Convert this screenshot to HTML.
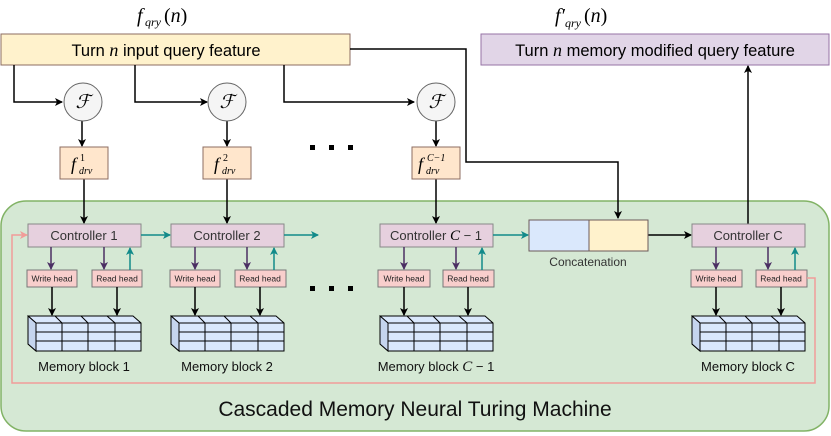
<!DOCTYPE html>
<html><head><meta charset="utf-8"><style>
body{margin:0;background:#fff}
svg{display:block;font-family:"Liberation Sans",sans-serif}
.m{font-family:"Liberation Serif",serif;font-style:italic}
</style></head><body>
<svg width="831" height="436" viewBox="0 0 831 436" xmlns="http://www.w3.org/2000/svg">
<defs>
<marker id="ab" markerWidth="8" markerHeight="8" refX="7" refY="4" orient="auto" markerUnits="userSpaceOnUse"><path d="M0,0 L8,4 L0,8 L2,4z" fill="#000"/></marker>
<marker id="ap" markerWidth="8" markerHeight="8" refX="7" refY="4" orient="auto" markerUnits="userSpaceOnUse"><path d="M0,0 L8,4 L0,8 L2,4z" fill="#4b2f63"/></marker>
<marker id="at" markerWidth="8" markerHeight="8" refX="7" refY="4" orient="auto" markerUnits="userSpaceOnUse"><path d="M0,0 L8,4 L0,8 L2,4z" fill="#128a8a"/></marker>
<marker id="ar" markerWidth="8" markerHeight="8" refX="7" refY="4" orient="auto" markerUnits="userSpaceOnUse"><path d="M0,0 L8,4 L0,8 L2,4z" fill="#f19c99"/></marker>
<g id="mem" stroke="#000" stroke-width="1" fill="#dae8fc">
<path d="M0,0 L105,0 L113,7 L113,35 L8,35 L0,28z"/>
<path d="M0,0 L8,7 L113,7 M8,7 L8,35 M0,9 L8,16 L113,16 M0,18 L8,25 L113,25 M27,0 L34,7 L34,35 M53,0 L60,7 L60,35 M79,0 L87,7 L87,35" fill="none"/>
<path d="M0,0 L8,7 L8,35 L0,28z" fill="#c5d5ee"/>
</g>
</defs>
<rect x="1" y="201" width="828" height="230" rx="25" fill="#d5e8d4" stroke="#82b366" stroke-width="1.5"/>
<rect x="1" y="34" width="349" height="31" fill="#fff2cc" stroke="#8c6d62"/>
<text x="166" y="56" font-size="16.5" text-anchor="middle">Turn <tspan class="m" font-size="18">n</tspan> input query feature</text>
<g class="m"><text x="137" y="22" font-size="20">f</text><text x="145" y="26" font-size="12">qry</text><text x="164" y="22" font-size="20"><tspan font-style="normal">(</tspan>n<tspan font-style="normal">)</tspan></text></g>
<rect x="481" y="34" width="348" height="31" fill="#e1d5e7" stroke="#9673a6"/>
<text x="655" y="56" font-size="16.5" text-anchor="middle">Turn <tspan class="m" font-size="18">n</tspan> memory modified query feature</text>
<g class="m"><text x="555" y="22" font-size="20">f′</text><text x="565" y="27" font-size="12">qry</text><text x="584" y="22" font-size="20"><tspan font-style="normal">(</tspan>n<tspan font-style="normal">)</tspan></text></g>
<g stroke="#000" stroke-width="1.5" fill="none" marker-end="url(#ab)">
<path d="M350,49 H466 V162 H618 V218"/>
<path d="M14,65 V102 H62"/>
<path d="M135,65 V102 H207"/>
<path d="M284,65 V102 H414"/>
<path d="M82,121 V146"/>
<path d="M227,121 V146"/>
<path d="M436,121 V146"/>
<path d="M84,179 V223"/>
<path d="M227,179 V223"/>
<path d="M436,179 V223"/>
<path d="M648,235 H691"/>
<path d="M748,224 V66"/>
</g>
<g fill="#f5f5f5" stroke="#666"><circle cx="83" cy="102" r="19"/><circle cx="227" cy="102" r="19"/><circle cx="436" cy="102" r="19"/></g>
<g font-size="19" text-anchor="middle" class="m"><text x="83" y="108">ℱ</text><text x="227" y="108">ℱ</text><text x="436" y="108">ℱ</text></g>
<g fill="#ffe6cc" stroke="#8c6d62"><rect x="60" y="147" width="48" height="32"/><rect x="203" y="147" width="48" height="32"/><rect x="412" y="147" width="48" height="32"/></g>
<g class="m">
<text x="71" y="170" font-size="18">f</text><text x="80" y="161" font-size="10" font-style="normal">1</text><text x="79" y="174" font-size="10">drv</text>
<text x="214" y="170" font-size="18">f</text><text x="223" y="161" font-size="10" font-style="normal">2</text><text x="222" y="174" font-size="10">drv</text>
<text x="418" y="170" font-size="18">f</text><text x="427" y="161" font-size="10">C−1</text><text x="426" y="174" font-size="10">drv</text>
</g>
<g fill="#000"><rect x="310" y="145" width="5" height="5"/><rect x="329" y="145" width="5" height="5"/><rect x="348" y="145" width="5" height="5"/>
<rect x="310" y="286" width="5" height="5"/><rect x="329" y="286" width="5" height="5"/><rect x="348" y="286" width="5" height="5"/></g>
<g fill="#e6d0de" stroke="#888"><rect x="28" y="224" width="113" height="23"/><rect x="171" y="224" width="113" height="23"/><rect x="380" y="224" width="113" height="23"/><rect x="692" y="224" width="113" height="23"/></g>
<g font-size="13" fill="#333" text-anchor="middle"><text x="84" y="240">Controller 1</text><text x="227" y="240">Controller 2</text><text x="436" y="240">Controller <tspan class="m" font-size="15" fill="#000">C</tspan> − 1</text><text x="748" y="240">Controller C</text>
<text x="588" y="266" font-size="12">Concatenation</text></g>
<rect x="529" y="220" width="60" height="31" fill="#dae8fc" stroke="#6c5a5a"/>
<rect x="589" y="220" width="59" height="31" fill="#fff2cc" stroke="#6c5a5a"/>
<g fill="#f8cecc" stroke="#777"><rect x="27" y="270" width="50" height="17"/><rect x="92" y="270" width="50" height="17"/><rect x="170" y="270" width="50" height="17"/><rect x="235" y="270" width="51" height="17"/><rect x="378" y="270" width="52" height="17"/><rect x="443" y="270" width="51" height="17"/><rect x="691" y="270" width="51" height="17"/><rect x="756" y="270" width="51" height="17"/></g>
<g font-size="8.5" fill="#222" text-anchor="middle"><text x="52" y="281.5">Write head</text><text x="117" y="281.5">Read head</text><text x="195" y="281.5">Write head</text><text x="260" y="281.5">Read head</text><text x="404" y="281.5">Write head</text><text x="468" y="281.5">Read head</text><text x="716" y="281.5">Write head</text><text x="781" y="281.5">Read head</text></g>
<g stroke="#4b2f63" stroke-width="1.5" marker-end="url(#ap)">
<line x1="51" y1="247" x2="51" y2="269"/><line x1="104" y1="247" x2="104" y2="269"/>
<line x1="195" y1="247" x2="195" y2="269"/><line x1="247" y1="247" x2="247" y2="269"/>
<line x1="404" y1="247" x2="404" y2="269"/><line x1="456" y1="247" x2="456" y2="269"/>
<line x1="716" y1="247" x2="716" y2="269"/><line x1="768" y1="247" x2="768" y2="269"/>
</g>
<g stroke="#128a8a" stroke-width="1.5" marker-end="url(#at)">
<line x1="130" y1="270" x2="130" y2="248"/><line x1="274" y1="270" x2="274" y2="248"/>
<line x1="482" y1="270" x2="482" y2="248"/><line x1="795" y1="270" x2="795" y2="248"/>
<line x1="141" y1="235" x2="170" y2="235"/><line x1="284" y1="235" x2="318" y2="235"/><line x1="493" y1="235" x2="528" y2="235"/>
</g>
<g stroke="#000" stroke-width="1.5" marker-end="url(#ab)">
<line x1="52" y1="287" x2="52" y2="315"/><line x1="117" y1="287" x2="117" y2="315"/>
<line x1="195" y1="287" x2="195" y2="315"/><line x1="260" y1="287" x2="260" y2="315"/>
<line x1="404" y1="287" x2="404" y2="315"/><line x1="468" y1="287" x2="468" y2="315"/>
<line x1="716" y1="287" x2="716" y2="315"/><line x1="781" y1="287" x2="781" y2="315"/>
</g>
<path d="M807,278H815V383H12V235H27" fill="none" stroke="#f19c99" stroke-width="1.5" marker-end="url(#ar)"/>
<use href="#mem" x="28" y="316"/><use href="#mem" x="171" y="316"/><use href="#mem" x="380" y="316"/><use href="#mem" x="692" y="316"/>
<g font-size="13" text-anchor="middle" fill="#111"><text x="84" y="371">Memory block 1</text><text x="227" y="371">Memory block 2</text><text x="436" y="371">Memory block <tspan class="m" font-size="15">C</tspan> − 1</text><text x="748" y="371">Memory block C</text></g>
<text x="415" y="416" font-size="21" text-anchor="middle" fill="#111">Cascaded Memory Neural Turing Machine</text>
</svg>
</body></html>
